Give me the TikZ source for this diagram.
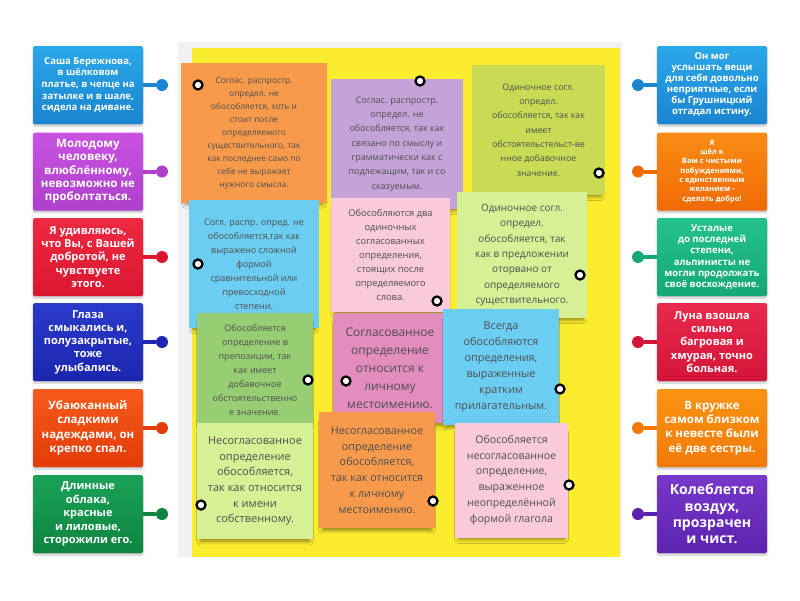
\documentclass[tikz,border=0pt]{standalone}
\usepackage{fontspec}
\setmainfont{Open Sans}
\usetikzlibrary{shadows.blur}
\newcommand{\fsz}[2]{\fontsize{#1}{#2}\selectfont}
% tile colours
\definecolor{blueT}{HTML}{2BA8E8}\definecolor{blueB}{HTML}{1A84D0}
\definecolor{violT}{HTML}{C853E0}\definecolor{violB}{HTML}{AE40CC}
\definecolor{redT}{HTML}{EE2A42}\definecolor{redB}{HTML}{DA1630}
\definecolor{navyT}{HTML}{2A3ACA}\definecolor{navyB}{HTML}{1C26AE}
\definecolor{rustT}{HTML}{F65A1C}\definecolor{rustB}{HTML}{E23C08}
\definecolor{grnT}{HTML}{1AA257}\definecolor{grnB}{HTML}{0E8440}
\definecolor{orT}{HTML}{F98C14}\definecolor{orB}{HTML}{F06A05}
\definecolor{tealT}{HTML}{24C28C}\definecolor{tealB}{HTML}{14A874}
\definecolor{crimT}{HTML}{EA2A4C}\definecolor{crimB}{HTML}{D41438}
\definecolor{ambT}{HTML}{FB9412}\definecolor{ambB}{HTML}{F27A08}
\definecolor{purT}{HTML}{7838CA}\definecolor{purB}{HTML}{5C22AE}
% note colours
\definecolor{board}{HTML}{FCEC2E}
\definecolor{panel}{HTML}{F1F1F3}
\definecolor{nOrange}{HTML}{F89A4C}
\definecolor{nLilac}{HTML}{C4A3D9}
\definecolor{nOlive}{HTML}{C9DA55}
\definecolor{nSky}{HTML}{6BCDF2}
\definecolor{nRose}{HTML}{F9CADB}
\definecolor{nPale}{HTML}{D6F096}
\definecolor{nLeaf}{HTML}{97CE73}
\definecolor{nMagenta}{HTML}{E38DBE}
\definecolor{ink}{HTML}{4E4E4E}
\begin{document}
\begin{tikzpicture}[x=1pt, y=-1pt,
  tile/.style={rectangle, minimum width=110pt, minimum height=78pt, inner sep=2pt,
    rounded corners=1.5pt, text=white, align=center,
    blur shadow={shadow xshift=0pt, shadow yshift=-2pt, shadow opacity=25, shadow blur radius=2pt}},
  knob/.style={circle, minimum size=12pt, inner sep=0pt},
  stub/.style={line width=4pt},
  note/.style={rectangle, inner sep=0pt, align=center, text=ink,
    blur shadow={shadow xshift=0pt, shadow yshift=-6pt, shadow scale=0.94, shadow opacity=45, shadow blur radius=4pt}},
  pin/.style={circle, draw=black, fill=white, line width=2.3pt, minimum size=9pt, inner sep=0pt}]
\useasboundingbox (0,0) rectangle (800,600);

% board
\fill[panel] (178,42) rectangle (622,557);
\fill[board] (192,48) rectangle (620,557);

% left tiles
\node[tile, top color=blueT, bottom color=blueB, font=\bfseries\fsz{9.5}{11.7}] (L1) at (88,85)
  {Саша Бережнова,\\в шёлковом\\платье, в чепце на\\затылке и в шале,\\сидела на диване.};
\node[tile, top color=violT, bottom color=violB, font=\bfseries\fsz{11.5}{13.3}] (L2) at (88,171.5)
  {Молодому\\человеку,\\влюблённому,\\невозможно не\\проболтаться.};
\node[tile, top color=redT, bottom color=redB, font=\bfseries\fsz{11}{13.3}] (L3) at (88,257)
  {Я удивляюсь,\\что Вы, с Вашей\\добротой, не\\чувствуете\\этого.};
\node[tile, top color=navyT, bottom color=navyB, font=\bfseries\fsz{11}{13.3}] (L4) at (88,342)
  {Глаза\\смыкались и,\\полузакрытые,\\тоже\\улыбались.};
\node[tile, top color=rustT, bottom color=rustB, font=\bfseries\fsz{11.5}{14.3}] (L5) at (88,428)
  {Убаюканный\\сладкими\\надеждами, он\\крепко спал.};
\node[tile, top color=grnT, bottom color=grnB, font=\bfseries\fsz{11}{13.5}] (L6) at (88,514)
  {Длинные\\облака,\\красные\\и лиловые,\\сторожили его.};

% right tiles
\node[tile, top color=blueT, bottom color=blueB, font=\bfseries\fsz{9.5}{11}] (R1) at (712,85)
  {Он мог\\услышать вещи\\для себя довольно\\неприятные, если\\бы Грушницкий\\отгадал истину.};
\node[tile, top color=orT, bottom color=orB, font=\bfseries\fsz{7.5}{9.3}] (R2) at (712,171.5)
  {Я\\шёл к\\Вам с чистыми\\побуждениями,\\с единственным\\желанием -\\сделать добро!};
\node[tile, top color=tealT, bottom color=tealB, font=\bfseries\fsz{9.5}{11.2}] (R3) at (712,257)
  {Усталые\\до последней\\степени,\\альпинисты не\\могли продолжать\\своё восхождение.};
\node[tile, top color=crimT, bottom color=crimB, font=\bfseries\fsz{11}{13.3}] (R4) at (712,342)
  {Луна взошла\\сильно\\багровая и\\хмурая, точно\\больная.};
\node[tile, top color=ambT, bottom color=ambB, font=\bfseries\fsz{11.5}{14.2}] (R5) at (712,428)
  {В кружке\\самом близком\\к невесте были\\её две сестры.};
\node[tile, top color=purT, bottom color=purB, font=\bfseries\fsz{14}{16.3}] (R6) at (712,514)
  {Колеблется\\воздух,\\прозрачен\\и чист.};

% knobs
\node[knob, fill=blueB] (kL1) at (162,85) {};
\node[knob, fill=violB] (kL2) at (162,171.5) {};
\node[knob, fill=redB] (kL3) at (162,257) {};
\node[knob, fill=navyB] (kL4) at (162,342) {};
\node[knob, fill=rustB] (kL5) at (162,428) {};
\node[knob, fill=grnB] (kL6) at (162,514) {};
\node[knob, fill=blueB] (kR1) at (638,85) {};
\node[knob, fill=orB] (kR2) at (638,171.5) {};
\node[knob, fill=tealB] (kR3) at (638,257) {};
\node[knob, fill=crimB] (kR4) at (638,342) {};
\node[knob, fill=ambB] (kR5) at (638,428) {};
\node[knob, fill=purB] (kR6) at (638,514) {};
\draw[stub, blueB] (L1.east) -- (kL1);
\draw[stub, violB] (L2.east) -- (kL2);
\draw[stub, redB] (L3.east) -- (kL3);
\draw[stub, navyB] (L4.east) -- (kL4);
\draw[stub, rustB] (L5.east) -- (kL5);
\draw[stub, grnB] (L6.east) -- (kL6);
\draw[stub, blueB] (R1.west) -- (kR1);
\draw[stub, orB] (R2.west) -- (kR2);
\draw[stub, tealB] (R3.west) -- (kR3);
\draw[stub, crimB] (R4.west) -- (kR4);
\draw[stub, ambB] (R5.west) -- (kR5);
\draw[stub, purB] (R6.west) -- (kR6);

% sticky notes, back to front
\node[note, fill=nOrange, minimum width=146pt, minimum height=140pt, font=\fsz{8.4}{13}] (N1) at (254,133)
  {Соглас. распростр.\\определ. не\\обособляется, хоть и\\стоит после\\определяемого\\существительного, так\\как последнее само по\\себе не выражает\\нужного смысла.};
\node[note, fill=nLilac, minimum width=132pt, minimum height=130pt, font=\fsz{9}{14.3}] (N2) at (397,144)
  {Соглас. распростр.\\определ. не\\обособляется, так как\\связано по смыслу и\\грамматически как с\\подлежащим, так и со\\сказуемым.};
\node[note, fill=nOlive, minimum width=133pt, minimum height=130pt, font=\fsz{8.8}{14.3}] (N3) at (538.5,130)
  {Одиночное согл.\\определ.\\обособляется, так как\\имеет\\обстоятельстельст-ве\\нное добавочное\\значение.};
\node[note, fill=nSky, minimum width=130pt, minimum height=128pt, font=\fsz{9}{14}] (N4) at (254,264)
  {Согл. распр. опред. не\\обособляется,так как\\выражено сложной\\формой\\сравнительной или\\превосходной\\степени.};
\node[note, fill=nRose, minimum width=119pt, minimum height=114pt, font=\fsz{9.3}{14}] (N5) at (390.5,255)
  {Обособляются два\\одиночных\\согласованных\\определения,\\стоящих после\\определяемого\\слова.};
\node[note, fill=nPale, minimum width=130pt, minimum height=126pt, font=\fsz{10}{15.3}] (N6) at (522,255)
  {Одиночное согл.\\определ.\\обособляется, так\\как в предложении\\оторвано от\\определяемого\\существительного.};
\node[note, fill=nLeaf, minimum width=116pt, minimum height=114pt, font=\fsz{9}{14}] (N7) at (255,370)
  {Обособляется\\определение в\\препозиции, так\\как имеет\\добавочное\\обстоятельственно\\е значение.};
\node[note, fill=nMagenta, minimum width=114pt, minimum height=110pt, font=\fsz{12}{18}] (N8) at (390,368)
  {Согласованное\\определение\\относится к\\личному\\местоимению.};
\node[note, fill=nSky, minimum width=116pt, minimum height=116pt, font=\fsz{10.8}{15.9}] (N9) at (501,367)
  {Всегда\\обособляются\\определения,\\выраженные\\кратким\\прилагательным.};
\node[note, fill=nPale, minimum width=116pt, minimum height=116pt, font=\fsz{11}{15.7}] (N10) at (255,481)
  {Несогласованное\\определение\\обособляется,\\так как относится\\к имени\\собственному.};
\node[note, fill=nOrange, minimum width=116pt, minimum height=116pt, font=\fsz{10.8}{15.7}] (N11) at (377,470)
  {Несогласованное\\определение\\обособляется,\\так как относится\\к личному\\местоимению.};
\node[note, fill=nRose, minimum width=113pt, minimum height=115pt, font=\fsz{10.6}{15.7}] (N12) at (511.5,480)
  {Обособляется\\несогласованное\\определение,\\выраженное\\неопределённой\\формой глагола};

% pins
\node[pin] (p1) at (198,85) {};
\node[pin] (p2) at (420,81) {};
\node[pin] (p3) at (599,173) {};
\node[pin] (p4) at (198,264) {};
\node[pin] (p5) at (437,301) {};
\node[pin] (p6) at (580,275) {};
\node[pin] (p7) at (308,380) {};
\node[pin] (p8) at (346,381) {};
\node[pin] (p9) at (560,389) {};
\node[pin] (p10) at (201,505) {};
\node[pin] (p11) at (433,501) {};
\node[pin] (p12) at (569,485) {};
\end{tikzpicture}
\end{document}
